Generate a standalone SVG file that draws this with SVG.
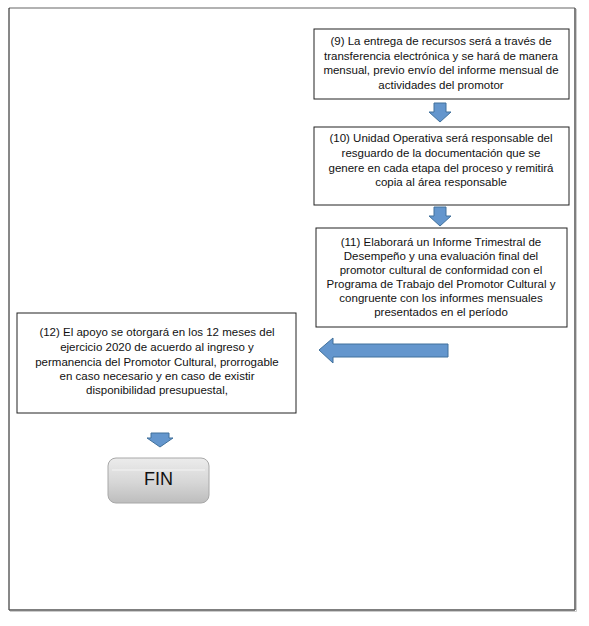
<svg xmlns="http://www.w3.org/2000/svg" width="589" height="626" viewBox="0 0 589 626">
<defs>
<style>
.box{fill:#fff;stroke:#222;stroke-width:1}
.t{font-family:"Liberation Sans",Arial,sans-serif;font-size:11.5px;fill:#111;text-anchor:middle}
.arr{fill:#6496cd;stroke:#41719c;stroke-width:1}
.fin{font-family:"Liberation Sans",Arial,sans-serif;font-size:18px;fill:#111;text-anchor:middle}
</style>
<linearGradient id="g" x1="0" y1="0" x2="0" y2="1">
<stop offset="0" stop-color="#ececec"/>
<stop offset="0.55" stop-color="#d6d6d6"/>
<stop offset="1" stop-color="#bdbdbd"/>
</linearGradient>
</defs>
<rect x="0" y="0" width="589" height="626" fill="#fff"/>
<g id="frame">
<line x1="9" y1="8" x2="575" y2="8" stroke="#999" stroke-width="1.5"/>
<line x1="9" y1="8" x2="9" y2="610" stroke="#111" stroke-width="1"/>
<line x1="575" y1="8" x2="575" y2="610" stroke="#555" stroke-width="1.5"/>
<line x1="9" y1="610" x2="575" y2="610" stroke="#555" stroke-width="1.5"/>
<line x1="576.5" y1="9" x2="576.5" y2="611.5" stroke="#ccc" stroke-width="1"/>
<line x1="10" y1="611.5" x2="576.5" y2="611.5" stroke="#ccc" stroke-width="1"/>
</g>
<g id="n9">
<rect class="box" x="314" y="29" width="255" height="70"/>
<text class="t" x="441" y="45">(9) La entrega de recursos será a través de</text>
<text class="t" x="441" y="59.5">transferencia electrónica y se hará de manera</text>
<text class="t" x="441" y="74">mensual, previo envío del informe mensual de</text>
<text class="t" x="441" y="88.5">actividades del promotor</text>
</g>
<g id="n10">
<rect class="box" x="314" y="127" width="255" height="78"/>
<text class="t" x="441" y="142">(10) Unidad Operativa será responsable del</text>
<text class="t" x="441" y="157">resguardo de la documentación que se</text>
<text class="t" x="441" y="172">genere en cada etapa del proceso y remitirá</text>
<text class="t" x="441" y="186">copia al área responsable</text>
</g>
<g id="n11">
<rect class="box" x="316" y="228" width="251" height="99"/>
<text class="t" x="441" y="246">(11) Elaborará un Informe Trimestral de</text>
<text class="t" x="441" y="260">Desempeño y una evaluación final del</text>
<text class="t" x="441" y="274">promotor cultural de conformidad con el</text>
<text class="t" x="441" y="288">Programa de Trabajo del Promotor Cultural y</text>
<text class="t" x="441" y="302">congruente con los informes mensuales</text>
<text class="t" x="441" y="316">presentados en el período</text>
</g>
<g id="n12">
<rect class="box" x="17" y="313" width="279" height="100"/>
<text class="t" x="157" y="336">(12) El apoyo se otorgará en los 12 meses del</text>
<text class="t" x="157" y="351">ejercicio 2020 de acuerdo al ingreso y</text>
<text class="t" x="157" y="366">permanencia del Promotor Cultural, prorrogable</text>
<text class="t" x="157" y="380">en caso necesario y en caso de existir</text>
<text class="t" x="157" y="394">disponibilidad presupuestal,</text>
</g>
<g id="fin">
<rect x="108" y="458" width="101" height="45" rx="8" ry="8" fill="url(#g)" stroke="#a8a8a8" stroke-width="1"/>
<line x1="112" y1="470" x2="205" y2="470" stroke="#f4f4f4" stroke-width="1"/>
<text class="fin" x="158.5" y="485">FIN</text>
</g>
<g id="connectors">
<polygon class="arr" points="434,103 446,103 446,112 451,112 440,122 429,112 434,112"/>
<polygon class="arr" points="434,207 446,207 446,216 451,216 440,226 429,216 434,216"/>
<polygon class="arr" points="448,344 448,357 333,357 333,363 319,350 333,338 333,344"/>
<polygon class="arr" points="151,433 169,433 169,438 173,438 160,447 147,438 151,438"/>
</g>
</svg>
